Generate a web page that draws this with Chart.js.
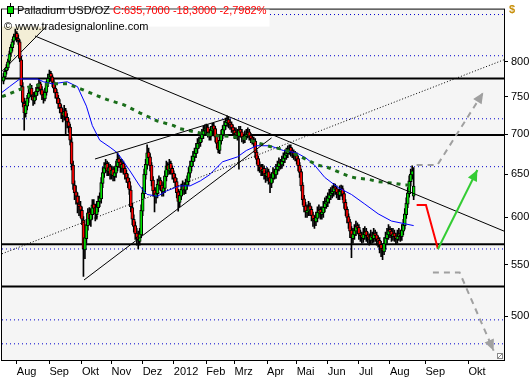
<!DOCTYPE html>
<html><head><meta charset="utf-8">
<script src="https://cdn.jsdelivr.net/npm/chart.js@4/dist/chart.umd.min.js"></script>
<style>html,body{margin:0;padding:0;background:#fff;}canvas{display:block;}</style>
</head><body>
<canvas id="c" width="532" height="380"></canvas>
<script>
// ---------- data ----------
const monthLabels = ['Aug','Sep','Okt','Nov','Dez','2012','Feb','Mrz','Apr','Mai','Jun','Jul','Aug','Sep','Okt'];
const monthSlots  = [9,31,53,73,94,115,137,156,178,198,219,240,261,285,314];
const yTickValues = [500,550,600,650,700,750,800];

const opens = [
772,778,787,791,801,813,821,831,839,843, 835,830,803,764,741,727,737,748,756,762,
751,744,751,757,763,768,760,753,747,756, 769,776,783,778,771,762,756,748,741,735,
728,723,731,722,716,709,690,661,637,629, 624,615,613,608,597,565,577,591,606,597,
603,615,611,603,611,618,621,639,651,657, 663,653,659,649,656,647,651,659,669,665,
657,663,657,651,646,641,631,611,598,591, 583,579,574,581,607,627,649,661,677,671,
661,643,631,623,627,637,643,637,629,633, 647,661,654,663,657,651,646,641,629,617,
624,631,637,631,637,641,651,659,665,671, 675,681,689,689,694,699,705,705,709,703,
697,704,711,707,697,689,679,691,699,705, 711,715,719,715,713,709,705,699,703,697,
706,703,697,693,697,699,703,698,695,693, 691,677,669,661,659,653,657,651,647,653,
646,639,645,653,649,655,659,665,661,665, 669,673,675,679,683,679,677,675,673,669,
661,653,637,621,613,605,607,613,609,603, 599,595,599,605,609,603,605,611,615,617,
621,625,627,629,635,633,629,625,629,633, 627,617,609,601,595,586,577,581,585,591,
589,583,581,577,581,585,581,579,575,581, 577,583,581,577,575,571,567,563,571,577,
581,587,585,579,583,580,576,579,583,579, 585,591,603,615,627,641,649,624];
const highs = [
783,790,796,804,816,826,834,842,850,846, 841,833,808,770,748,744,752,760,768,766,
756,756,763,768,774,771,764,757,762,772, 782,788,786,781,774,766,760,752,746,739,
733,738,734,727,720,713,695,666,642,636, 628,624,618,612,601,584,598,610,611,610,
620,620,615,618,624,628,646,658,664,668, 666,664,662,660,659,658,666,676,673,668,
668,666,660,655,650,645,636,616,603,595, 588,585,588,614,634,656,668,686,682,675,
664,647,634,634,644,648,646,641,640,654, 666,664,668,666,660,654,650,645,632,630,
638,642,640,644,648,658,666,672,678,682, 688,694,696,700,706,710,712,713,712,706,
710,714,714,710,700,692,697,705,711,717, 721,724,722,719,716,712,708,708,706,710,
710,706,700,704,706,708,706,701,698,696, 694,680,672,665,662,662,660,654,658,656,
650,652,658,656,662,666,670,668,672,676, 680,682,685,686,686,682,680,678,676,672,
664,656,640,625,617,614,618,616,612,606, 602,606,612,614,612,612,618,622,624,628,
632,634,636,639,638,636,632,636,637,636, 630,620,612,604,598,590,588,592,596,594,
592,586,584,588,590,588,584,582,586,584, 588,586,584,580,578,574,570,578,584,588,
592,590,588,588,586,583,586,588,586,592, 598,610,622,634,648,656,660,658];
const lows = [
768,775,782,788,797,808,816,826,833,830, 826,800,760,736,705,722,732,742,750,746,
738,740,746,752,758,754,746,741,744,752, 764,771,772,764,756,748,741,734,728,720,
716,718,698,708,702,686,655,632,620,615, 605,602,600,592,538,556,572,586,592,590,
598,604,596,598,606,612,616,634,646,652, 648,648,644,644,642,642,646,654,658,652,
652,650,644,640,634,626,606,592,584,576, 570,566,570,578,602,622,644,656,664,654,
636,624,606,616,622,632,630,624,624,628, 642,649,650,650,644,640,634,622,607,612,
620,626,626,627,632,637,646,654,660,666, 670,676,682,684,690,694,698,700,696,692,
692,700,700,690,682,676,675,687,694,700, 706,710,708,706,702,698,694,694,692,656,
696,690,688,689,693,695,692,689,687,684, 670,662,654,652,648,648,644,640,642,638,
628,634,640,644,645,650,654,656,657,660, 664,668,670,674,672,670,668,666,662,654,
646,630,614,606,600,600,602,602,596,590, 588,591,595,600,598,598,600,606,610,612,
616,620,622,624,626,622,620,620,624,620, 610,602,594,588,578,557,572,576,580,582,
576,574,572,573,576,574,572,570,571,572, 573,574,570,568,562,558,555,560,566,572,
576,578,574,575,574,571,572,575,574,575, 581,587,599,611,623,636,644,620];
const closes = [
778,786,792,800,812,822,830,838,842,836, 832,805,765,742,728,738,748,755,762,752,
745,750,758,762,768,760,752,748,756,768, 776,782,778,770,762,755,748,740,735,728,
724,730,722,716,710,692,662,638,628,624, 616,612,608,598,566,578,592,605,598,604,
614,610,604,612,618,622,640,652,658,662, 654,658,650,655,648,652,660,668,664,658,
662,656,650,645,640,632,612,598,590,582, 578,575,582,608,628,650,662,676,670,660,
642,630,624,628,638,642,636,630,634,648, 660,655,662,656,650,645,640,628,618,625,
632,636,632,638,642,652,660,666,672,676, 682,688,690,695,700,704,706,708,702,698,
705,710,706,696,688,680,692,700,706,712, 716,718,714,712,708,704,700,702,698,705,
702,696,694,698,700,702,697,694,692,690, 676,668,660,658,654,656,650,648,652,645,
640,646,652,650,656,660,664,662,666,670, 674,676,680,682,678,676,674,672,668,660,
652,636,620,612,606,608,612,608,602,598, 596,600,606,608,604,606,612,616,618,622,
626,628,630,634,632,628,626,630,632,626, 616,608,600,594,585,578,582,586,590,588,
582,580,578,582,584,580,578,576,580,578, 582,580,576,574,570,566,564,572,578,582,
586,584,580,582,579,577,580,582,580,586, 592,604,616,628,642,650,654,635.7];

// moving averages
const maBlueX = [-1,4,11,23,27,33,43,50,56,60,65,72,77,85,92,97,104,110,119,126,133,139,148,158,164,171,180,189,198,204,210,217,226,235,244,253,262,271,277];
const maBlueY = [756,764,775,775,771,768,771,764,737,711,692,683,676,655,636,626,624,630,636,636,642,649,665,671,679,685,685,679,676,670,661,646,634,626,615,604,596,593,591];
const maGreenX = [-1,4,11,20,31,43,52,60,70,81,92,104,115,119,131,142,153,164,171,180,187,194,202,212,219,227,234,239,246,253,264,271,277];
const maGreenY = [750,754,760,765,768,768,761,754,746,739,728,717,711,707,702,698,697,694,689,684,681,677,670,661,658,652,647,645,644,641,639,637,637];

// horizontal levels
const supportLevels = [775.8, 698.6, 571, 528];
const dottedLevels  = [873, 809, 720, 659, 566, 496.5, 475];

// trend lines (slot, price)
const trendDownX = [21.3, 338], trendDownY = [839, 585];
const trendDotX  = [-1, 338],   trendDotY  = [561, 803];
const wedgeLowX  = [54.4, 181], wedgeLowY = [534.5, 695];
const wedgeHighX = [61.8, 151.6], wedgeHighY = [668.4, 721];
const diagX = [-1, 40.2], diagY = [786, 881];
const shadeX = [-1, 40.2, -1], shadeY = [881, 881, 786];

// projections
const upArrowX = [279, 293, 324], upArrowY = [661, 661, 756];
const downArrowX = [290, 308, 331], downArrowY = [542, 542, 469];
const redPathX = [279, 285.3, 293.4], redPathY = [614, 614, 566];
const greenArrowX = [293.4, 320], greenArrowY = [566, 655];

// ---------- build ----------
const FONT = "'Liberation Sans', Arial, sans-serif";
const pts = (xs, ys) => xs.map((x, i) => ({x, y: ys[i]}));
const slots = closes.map((_, i) => i);
const lineDs = (xs, ys, color, width, dash, order, extra) => Object.assign({
  type: 'line', data: pts(xs, ys), borderColor: color, borderWidth: width,
  borderDash: dash || [], pointRadius: 0, fill: false, tension: 0, order: order
}, extra || {});

const datasets = [];
dottedLevels.forEach(v => datasets.push(lineDs([-1, 338], [v, v], '#0000cc', 1, [1, 3], 20)));
supportLevels.forEach(v => datasets.push(lineDs([-1, 338], [v, v], '#000000', 2, [], 19)));
datasets.push(lineDs(diagX, diagY, '#000', 1, [], 18));
datasets.push({type:'bar', data: slots.map(i => ({x:i, y:[lows[i], highs[i]]})), backgroundColor:'#000',
  barThickness:1, grouped:false, order:12});
datasets.push({type:'bar', data: slots.map(i => ({x:i, y:[opens[i], closes[i]]})),
  backgroundColor: slots.map(i => closes[i] >= opens[i] ? '#00e000' : '#ff0000'),
  borderColor:'#000', borderWidth:1, borderSkipped:false, barThickness:3, grouped:false, order:11});
datasets.push(lineDs(maBlueX, maBlueY, '#0000ff', 1, [], 8));
datasets.push(lineDs(maGreenX, maGreenY, '#1a6e1a', 3, [4, 5], 7));
datasets.push(lineDs(trendDownX, trendDownY, '#000', 1, [], 6));
datasets.push(lineDs(trendDotX, trendDotY, '#000', 1, [1, 2], 6));
datasets.push(lineDs(wedgeLowX, wedgeLowY, '#000', 1, [], 6));
datasets.push(lineDs(wedgeHighX, wedgeHighY, '#000', 1, [], 6));
datasets.push(lineDs(upArrowX, upArrowY, '#a0a0a0', 2, [6, 5], 3));
datasets.push(lineDs(downArrowX, downArrowY, '#a0a0a0', 2, [6, 5], 3));
datasets.push(lineDs(redPathX, redPathY, '#ff0000', 2, [], 2));
datasets.push(lineDs(greenArrowX, greenArrowY, '#33cc33', 2, [], 1));

const arrowHeads = [
  {xs: upArrowX, ys: upArrowY, color: '#a0a0a0'},
  {xs: downArrowX, ys: downArrowY, color: '#a0a0a0'},
  {xs: greenArrowX, ys: greenArrowY, color: '#33cc33'}
];

const deco = {
  id: 'deco',
  beforeDraw(chart) {
    const {ctx, chartArea: a, scales: {x, y}} = chart;
    ctx.save();
    ctx.fillStyle = '#fff'; ctx.fillRect(0, 0, chart.width, chart.height);
    ctx.fillStyle = '#f5f5f5'; ctx.fillRect(a.left, a.top, a.right - a.left, a.bottom - a.top);
    ctx.fillStyle = '#f3eed6';
    ctx.beginPath();
    shadeX.forEach((v, i) => { const px = x.getPixelForValue(v), py = y.getPixelForValue(shadeY[i]); i ? ctx.lineTo(px, py) : ctx.moveTo(px, py); });
    ctx.closePath(); ctx.fill();
    ctx.restore();
  },
  afterDatasetsDraw(chart) {
    const {ctx, chartArea: a, scales: {x, y}} = chart;
    ctx.save();
    arrowHeads.forEach(h => {
      const n = h.xs.length;
      const x1 = x.getPixelForValue(h.xs[n-2]), y1 = y.getPixelForValue(h.ys[n-2]);
      const x2 = x.getPixelForValue(h.xs[n-1]), y2 = y.getPixelForValue(h.ys[n-1]);
      const ang = Math.atan2(y2 - y1, x2 - x1), L = 11, W = 5;
      ctx.fillStyle = h.color;
      ctx.beginPath();
      ctx.moveTo(x2, y2);
      ctx.lineTo(x2 - L*Math.cos(ang) + W*Math.sin(ang), y2 - L*Math.sin(ang) - W*Math.cos(ang));
      ctx.lineTo(x2 - L*Math.cos(ang) - W*Math.sin(ang), y2 - L*Math.sin(ang) + W*Math.cos(ang));
      ctx.closePath(); ctx.fill();
    });
    ctx.strokeStyle = '#000'; ctx.lineWidth = 1;
    ctx.strokeRect(a.left - 0.5, a.top - 0.5, a.right - a.left + 1, a.bottom - a.top + 1);
    ctx.fillStyle = '#fff'; ctx.strokeStyle = '#888';
    ctx.fillRect(a.right - 7, a.bottom - 7, 6, 6); ctx.strokeRect(a.right - 6.5, a.bottom - 6.5, 5, 5);
    ctx.beginPath(); ctx.moveTo(a.right - 6, a.bottom - 2); ctx.lineTo(a.right - 2, a.bottom - 6); ctx.stroke();
    ctx.font = '11px ' + FONT;
    ctx.textBaseline = 'middle';
    const t1 = 'Palladium USD/OZ ', t2 = 'C:635,7000 -18,3000 -2,7982%';
    const w1 = ctx.measureText(t1).width, w2 = ctx.measureText(t2).width;
    ctx.fillStyle = '#fff';
    ctx.fillRect(a.left, a.top, 17 + w1 + w2 + 3 - a.left, 17);
    ctx.strokeStyle = '#000';
    ctx.beginPath(); ctx.moveTo(10.5, 3); ctx.lineTo(10.5, 17); ctx.stroke();
    ctx.fillStyle = '#00e000';
    ctx.fillRect(7.5, 6.5, 6, 7); ctx.strokeRect(7.5, 6.5, 6, 7);
    ctx.fillStyle = '#000'; ctx.fillText(t1, 17, 10.5);
    ctx.fillStyle = '#ff0000'; ctx.fillText(t2, 17 + w1, 10.5);
    ctx.fillStyle = '#000'; ctx.fillText('\u00A9 www.tradesignalonline.com', 4, 26.5);
    ctx.fillStyle = '#c8900c'; ctx.font = 'bold 11px ' + FONT;
    ctx.fillText('$', a.right + 5, 9.5);
    ctx.restore();
  }
};

new Chart(document.getElementById('c'), {
  type: 'bar',
  data: {datasets},
  options: {
    responsive: false, animation: false, events: [],
    layout: {padding: {left: 2, top: 1, right: 0, bottom: 0}},
    plugins: {legend: {display: false}, tooltip: {enabled: false}, title: {display: false}},
    scales: {
      x: {
        type: 'linear', min: -1, max: 338, offset: false, position: 'bottom',
        afterBuildTicks: s => { s.ticks = monthSlots.map(v => ({value: v})); },
        afterFit: s => { s.height = 20; },
        ticks: {autoSkip: false, maxRotation: 0, minRotation: 0, align: 'start', padding: 1,
          color: '#000', font: {family: FONT, size: 11},
          callback: (v, i) => monthLabels[i]},
        grid: {drawOnChartArea: false, drawTicks: true, tickLength: 4, color: '#000', offset: false},
        border: {display: false}
      },
      y: {
        type: 'logarithmic', position: 'right', min: 461, max: 881, bounds: 'data',
        afterBuildTicks: s => { s.ticks = yTickValues.map(v => ({value: v})); },
        afterFit: s => { s.width = 28; },
        ticks: {padding: 3, color: '#000', font: {family: FONT, size: 11}, callback: v => String(v)},
        grid: {drawOnChartArea: false, drawTicks: true, tickLength: 4, color: '#000'},
        border: {display: false}
      }
    }
  },
  plugins: [deco]
});
</script>
</body></html>
